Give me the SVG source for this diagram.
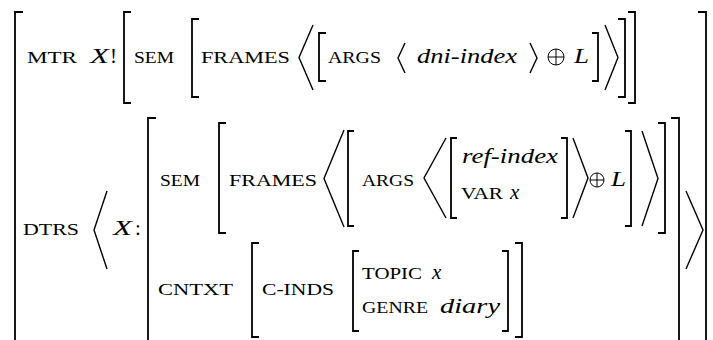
<svg xmlns="http://www.w3.org/2000/svg" width="713" height="340" viewBox="0 0 713 340">
<defs>
<style>
.sc{font-family:"Liberation Serif",serif;font-size:16.5px;fill:#000}
.it{font-family:"Liberation Serif",serif;font-style:italic;font-size:21px;fill:#000}
.rm{font-family:"Liberation Serif",serif;font-size:21px;fill:#000}
.br{fill:none;stroke:#000;stroke-width:1.8}
.an{fill:none;stroke:#000;stroke-width:1.4;stroke-linejoin:miter}
.op{fill:none;stroke:#000;stroke-width:1}
</style>
</defs>
<rect width="713" height="340" fill="#fff"/>

<g id="outer">
<path class="br" d="M23,12 H15 V345"/>
<path class="br" d="M698,12 H706 V345"/>
</g>

<g id="mtr-row">
<text class="sc" x="27" y="63" textLength="50" lengthAdjust="spacingAndGlyphs">MTR</text>
<text class="it" x="90" y="63" textLength="19" lengthAdjust="spacingAndGlyphs">X</text>
<text class="rm" x="110" y="63">!</text>
<path class="br" d="M131,12 H124 V103 H131"/>
<text class="sc" x="134" y="63" textLength="40" lengthAdjust="spacingAndGlyphs">SEM</text>
<path class="br" d="M199,19 H192 V97 H199"/>
<text class="sc" x="201" y="63" textLength="89" lengthAdjust="spacingAndGlyphs">FRAMES</text>
<polyline class="an" points="313,25 299,57.5 313,90"/>
<path class="br" d="M326,33 H319 V81 H326"/>
<text class="sc" x="328" y="63" textLength="53" lengthAdjust="spacingAndGlyphs">ARGS</text>
<polyline class="an" points="405,43 398,58 405,73"/>
<text class="it" x="417" y="63" textLength="100" lengthAdjust="spacingAndGlyphs">dni-index</text>
<polyline class="an" points="530,43 537,58 530,73"/>
<g class="op"><circle cx="556" cy="57" r="8"/><path d="M548,57 H564 M556,49 V65"/></g>
<text class="it" x="574" y="63" textLength="15" lengthAdjust="spacingAndGlyphs">L</text>
<path class="br" d="M592,33 H598 V81 H592"/>
<polyline class="an" points="605,25 618,57.5 605,90"/>
<path class="br" d="M618,19 H625 V97 H618"/>
<path class="br" d="M628,12 H635 V103 H628"/>
</g>

<g id="dtrs-row">
<text class="sc" x="23" y="235" textLength="56" lengthAdjust="spacingAndGlyphs">DTRS</text>
<polyline class="an" points="107,191 94,230 107,269"/>
<text class="it" x="113" y="235" textLength="19" lengthAdjust="spacingAndGlyphs">X</text>
<text class="rm" x="135" y="235">:</text>
<path class="br" d="M156,118 H148 V345"/>
<path class="br" d="M671,118 H679 V345"/>
<polyline class="an" points="686,191 703,230 686,269"/>
</g>

<g id="sem-row">
<text class="sc" x="160" y="186" textLength="40" lengthAdjust="spacingAndGlyphs">SEM</text>
<path class="br" d="M226,123 H219 V233 H226"/>
<text class="sc" x="229" y="186" textLength="88" lengthAdjust="spacingAndGlyphs">FRAMES</text>
<polyline class="an" points="344,130 324,178.5 344,227"/>
<path class="br" d="M354,131 H348 V226 H354"/>
<text class="sc" x="362" y="186" textLength="52" lengthAdjust="spacingAndGlyphs">ARGS</text>
<polyline class="an" points="446,138 424,178 446,218"/>
<path class="br" d="M457,138 H451 V218 H457"/>
<text class="it" x="462" y="163" textLength="96" lengthAdjust="spacingAndGlyphs">ref-index</text>
<text class="sc" x="461" y="199" textLength="42" lengthAdjust="spacingAndGlyphs">VAR</text>
<text class="it" x="510" y="199">x</text>
<path class="br" d="M561,138 H567 V218 H561"/>
<polyline class="an" points="573,138 588,178 573,218"/>
<g class="op"><circle cx="597" cy="180" r="7"/><path d="M590,180 H604 M597,173 V187"/></g>
<text class="it" x="611" y="186" textLength="15" lengthAdjust="spacingAndGlyphs">L</text>
<path class="br" d="M625,131 H631 V226 H625"/>
<polyline class="an" points="642,131 658,178.5 642,226"/>
<path class="br" d="M658,123 H665 V233 H658"/>
</g>

<g id="cntxt-row">
<text class="sc" x="158" y="295" textLength="75" lengthAdjust="spacingAndGlyphs">CNTXT</text>
<path class="br" d="M259,243 H252 V337 H259"/>
<text class="sc" x="262" y="295" textLength="72" lengthAdjust="spacingAndGlyphs">C-INDS</text>
<path class="br" d="M359,251 H353 V331 H359"/>
<text class="sc" x="362" y="279" textLength="60" lengthAdjust="spacingAndGlyphs">TOPIC</text>
<text class="it" x="432" y="279">x</text>
<text class="sc" x="362" y="313" textLength="66" lengthAdjust="spacingAndGlyphs">GENRE</text>
<text class="it" x="440" y="313" textLength="60" lengthAdjust="spacingAndGlyphs">diary</text>
<path class="br" d="M502,251 H508 V331 H502"/>
<path class="br" d="M515,243 H522 V337 H515"/>
</g>
</svg>
